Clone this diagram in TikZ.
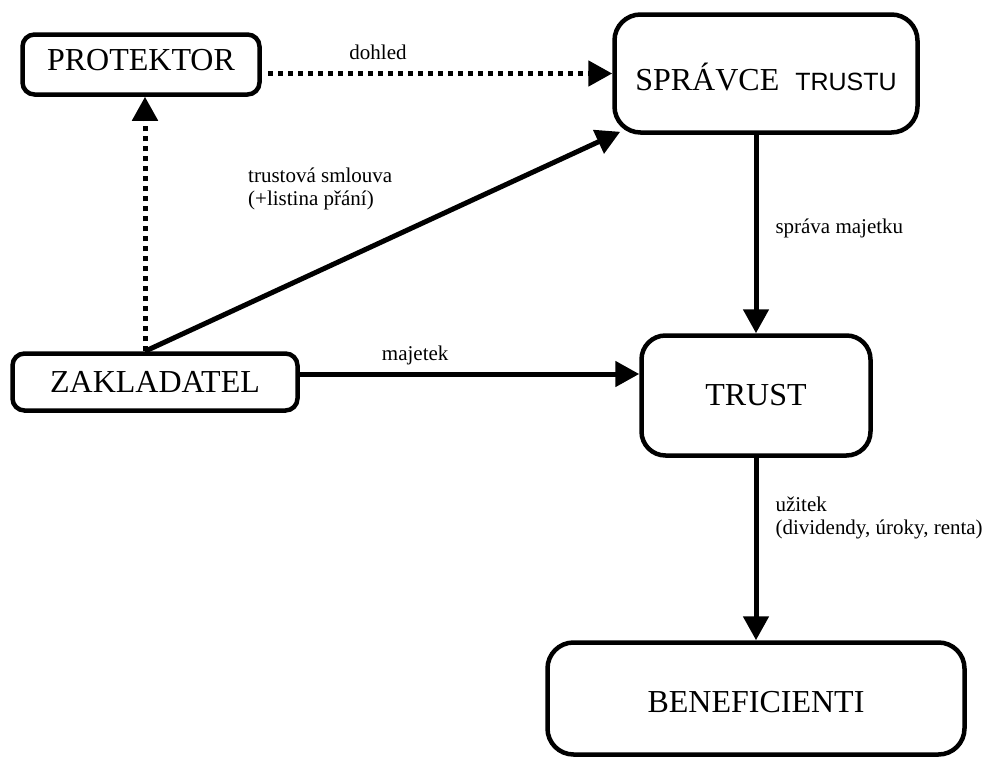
\documentclass[tikz,border=0pt]{standalone}
\usepackage{fontspec}
\setmainfont{Liberation Serif}
\newfontfamily\sansfont{Liberation Sans}
\usetikzlibrary{
    arrows.meta,
    calc
}

\tikzset{
    box/.style={draw, rounded corners=#1, line width=4.5pt, inner sep=0pt, font=\fontsize{32}{36}\selectfont},
    box/.default=12pt,
    arr/.style={-{Triangle[length=24pt,width=25pt]}, line width=5pt},
    dotarr/.style={arr, dash pattern=on 5pt off 5pt},
    lbl/.style={font=\fontsize{21}{23}\selectfont, inner sep=0pt, align=left}
}

\begin{document}
\begin{tikzpicture}[x=1pt, y=-1pt]
    \useasboundingbox (0,0) rectangle (986,758);
    \node[box, minimum width=237pt, minimum height=60pt, text height=21pt, text depth=9pt] (prot) at (141,64.5) {PROTEKTOR};
    \node[box=26pt, minimum width=303pt, minimum height=118pt, text height=34pt, text depth=0pt] (sprav) at (766,73.5) {SPRÁVCE\hspace{0.5em}{\sansfont\fontsize{25}{30}\selectfont TRUSTU}};
    \node[box, minimum width=285pt, minimum height=57pt] (zak) at (155,382) {ZAKLADATEL};
    \node[box=24pt, minimum width=229pt, minimum height=120pt] (trust) at (756,395.5) {TRUST};
    \node[box=26pt, minimum width=417pt, minimum height=112pt, text height=28pt, text depth=0pt] (ben) at (756,698.5) {BENEFICIENTI};

    \coordinate (zs) at ([xshift=-10pt]zak.north);
    \coordinate (zm) at ([yshift=8pt]zak.east);
    \coordinate (pd) at ([xshift=6pt]prot.east);

    % dotted: supervision
    \draw[dotarr] (pd |- sprav.west) -- (sprav.west) node[pos=0.32, anchor=base, yshift=14pt, lbl] (ldoh) {dohled};
    \draw[dotarr] (zs) -- (zs |- prot.south);

    % solid flows
    \draw[arr] (zs) -- ([xshift=8pt,yshift=3pt]sprav.south west);
    \node[lbl, anchor=north west] (lsml) at (248,168) {trustová smlouva\\(+listina přání)};
    \draw[arr] (zm) -- (zm -| trust.west) node[pos=0.34, anchor=base, yshift=14pt, lbl] (lmaj) {majetek};
    \draw[arr] (trust.north |- sprav.south) -- (trust.north) node[pos=0.47, anchor=west, xshift=17pt, lbl] (lspr) {správa majetku};
    \draw[arr] (trust.south) -- (ben.north) node[pos=0.2, anchor=north west, xshift=17pt, lbl] (luz) {užitek\\(dividendy, úroky, renta)};
\end{tikzpicture}
\end{document}
